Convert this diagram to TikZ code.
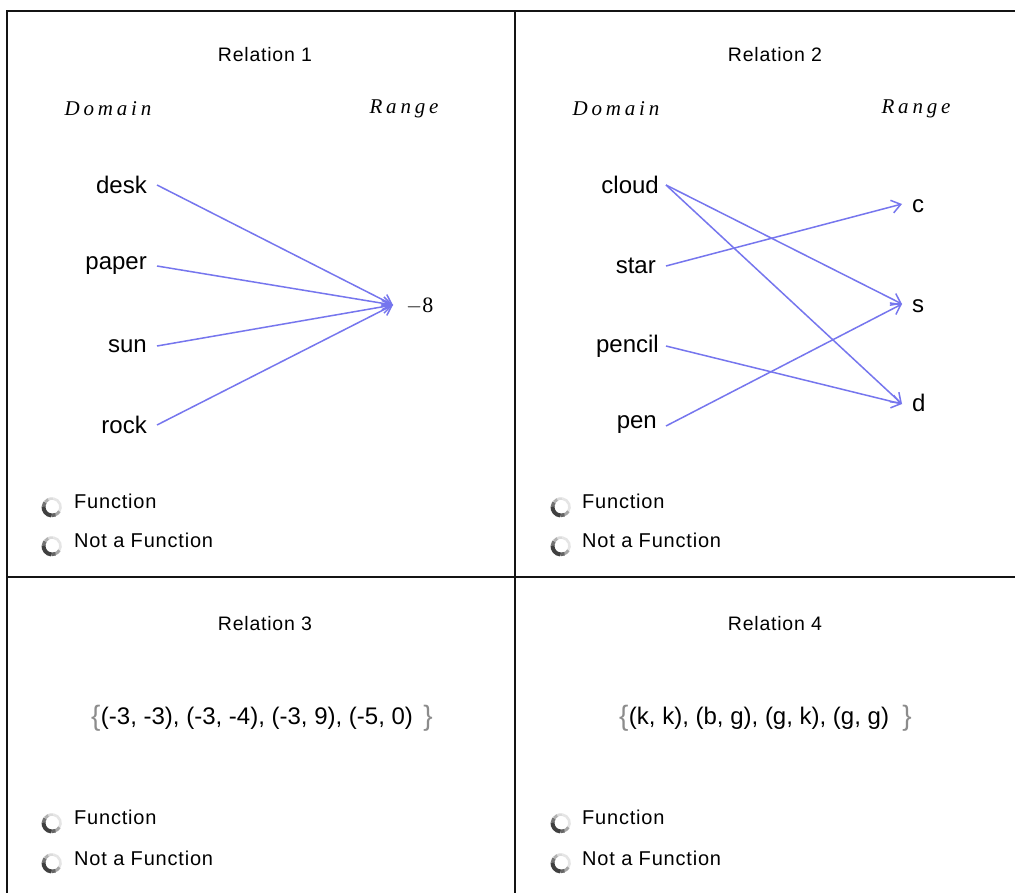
\documentclass[tikz,border=0pt]{standalone}
\usepackage{fontspec}
\setmainfont{Liberation Sans}
\newfontfamily\ltsans[LetterSpace=4]{Liberation Sans}
\newfontfamily\spacedserif[LetterSpace=18]{Liberation Serif}
\newfontfamily\plainserif{Liberation Serif}
\usetikzlibrary{arrows.meta}
\definecolor{maplink}{RGB}{118,118,238}
\definecolor{framegray}{RGB}{20,20,20}
\definecolor{bracegray}{RGB}{140,140,140}
\tikzset{
  heading/.style={font=\ltsans\fontsize{19.5}{22}\selectfont},
  axislabel/.style={font=\spacedserif\itshape\fontsize{21}{22}\selectfont},
  elem/.style={font=\fontsize{24}{27}\selectfont, inner sep=0pt},
  domelem/.style={elem, anchor=east},
  rngelem/.style={elem, anchor=west},
  maparrow/.style={draw=maplink, line width=1.5pt, -{Straight Barb[length=9pt,width=13pt,line width=1.5pt]}},
  choice/.style={font=\ltsans\fontsize{20}{22}\selectfont, anchor=west, inner sep=0pt},
  setlist/.style={font=\fontsize{24}{26}\selectfont, inner sep=0pt},
  bracket/.style={font=\fontsize{28}{30}\selectfont, text=bracegray, inner sep=0pt},
  frameline/.style={draw=framegray, line width=2pt}
}
% radio button glyph: ring darker towards the upper left
\newcommand{\radiobtn}[1]{%
  \fill[white] (#1) circle (11);
  \draw[line width=2.6pt, draw=black!10] (#1) ++(-80:8.5) arc (-80:30:8.5);
  \draw[line width=3pt, draw=black!35] (#1) ++(30:8.5) arc (30:65:8.5);
  \draw[line width=3.6pt, draw=black!60] (#1) ++(65:8.5) arc (65:95:8.5);
  \draw[line width=4pt, draw=black!75] (#1) ++(95:8.5) arc (95:185:8.5);
  \draw[line width=3.6pt, draw=black!55] (#1) ++(185:8.5) arc (185:215:8.5);
  \draw[line width=3pt, draw=black!30] (#1) ++(215:8.5) arc (215:245:8.5);
  \draw[line width=2.6pt, draw=black!14] (#1) ++(245:8.5) arc (245:280:8.5);
}
\begin{document}
\begin{tikzpicture}[x=1pt,y=-1pt]
\useasboundingbox (0,0) rectangle (1015,893);
\fill[white] (0,0) rectangle (1015,893);

% panel frame
\draw[frameline] (7,893) -- (7,11) -- (1015,11);
\draw[frameline] (515,11) -- (515,893);
\draw[frameline] (7,577) -- (1015,577);

% ---------- Relation 1 ----------
\node[heading] (h1) at (265,55) {Relation 1};
\node[axislabel] (d1) at (108,109) {Domain};
\node[axislabel] (r1) at (404,109) {Range};
\node[domelem] (desk) at (147,185) {desk};
\node[domelem] (paper) at (147,266) {paper};
\node[domelem] (sun) at (147,346) {sun};
\node[domelem] (rock) at (147,425) {rock};
\coordinate (m8) at (393,305);
\node[font=\plainserif\fontsize{22}{24}\selectfont, anchor=west, inner sep=0pt] (neg8) at (406,306) {$-$8};
\foreach \s in {desk,paper,sun,rock}
  \draw[maparrow] ([xshift=10pt]\s.east) -- (m8);

% ---------- Relation 2 ----------
\node[heading] (h2) at (775,55) {Relation 2};
\node[axislabel] (d2) at (616,109) {Domain};
\node[axislabel] (r2) at (916,109) {Range};
\node[domelem] (cloud) at (659,185) {cloud};
\node[domelem] (star) at (656,266) {star};
\node[domelem] (pencil) at (659,346) {pencil};
\node[domelem] (pen) at (657,425) {pen};
\node[rngelem] (c) at (912,206) {c};
\node[rngelem] (s) at (912,306) {s};
\node[rngelem] (d) at (912,403) {d};
\coordinate (cl) at (666,185);
\coordinate (st) at (666,266);
\coordinate (pc) at (666,346);
\coordinate (pn) at (666,426);
\coordinate (ct) at (902,204);
\coordinate (stt) at (902,304);
\coordinate (dt) at (902,404);
\draw[maparrow] (cl) -- (stt);
\draw[maparrow] (cl) -- (dt);
\draw[maparrow] (st) -- (ct);
\draw[maparrow] (pc) -- (dt);
\draw[maparrow] (pn) -- (stt);

% ---------- Relation 3 ----------
\node[heading] (h3) at (265,624) {Relation 3};
\node[setlist] (set3) at (257,718) {(-3, -3), (-3, -4), (-3, 9), (-5, 0)};
\node[bracket, anchor=east] (lb3) at (set3.west) {\{};
\node[bracket, anchor=west] (rb3) at ([xshift=10pt]set3.east) {\}};

% ---------- Relation 4 ----------
\node[heading] (h4) at (775,624) {Relation 4};
\node[setlist] (set4) at (759,718) {(k, k), (b, g), (g, k), (g, g)};
\node[bracket, anchor=east] (lb4) at (set4.west) {\{};
\node[bracket, anchor=west] (rb4) at ([xshift=13pt]set4.east) {\}};

% ---------- answer choices ----------
\foreach \px/\py/\nm in {52/507/a, 52/546/b, 561/507/c, 561/546/d, 52/823/e, 52/863/f, 561/823/g, 561/863/h}{
  \coordinate (rb\nm) at (\px,\py);
  \radiobtn{rb\nm}
}
\node[choice] (f1) at (74,501) {Function};
\node[choice] (n1) at (74,540) {Not a Function};
\node[choice] (f2) at (582,501) {Function};
\node[choice] (n2) at (582,540) {Not a Function};
\node[choice] (f3) at (74,817) {Function};
\node[choice] (n3) at (74,858) {Not a Function};
\node[choice] (f4) at (582,817) {Function};
\node[choice] (n4) at (582,858) {Not a Function};
\end{tikzpicture}
\end{document}
